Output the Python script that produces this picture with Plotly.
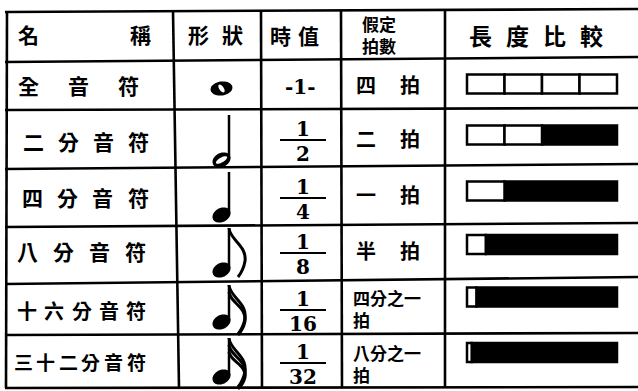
import numpy as np
import plotly.graph_objects as go

# ---------------- data ----------------
header_name = ["名", "稱"]
header_shape = ["形", "狀"]
header_value = ["時", "值"]
header_beats = ["假定", "拍數"]
header_compare = ["長", "度", "比", "較"]

note_names = ["全音符", "二分音符", "四分音符", "八分音符", "十六分音符", "三十二分音符"]
time_numerators = [1, 1, 1, 1, 1, 1]
time_denominators = [1, 2, 4, 8, 16, 32]
beat_labels = [["四", "拍"], ["二", "拍"], ["一", "拍"], ["半", "拍"],
               ["四分之一", "拍"], ["八分之一", "拍"]]
beats = [4, 2, 1, 0.5, 0.25, 0.125]
whole_beats = 4
flag_counts = [0, 0, 0, 1, 2, 3]
hollow_heads = [True, True, False, False, False, False]

# ---------------- layout (positions / styles) ----------------
W, H = 638, 391
CJK = "Noto Sans CJK TC, Noto Sans CJK SC, sans-serif"
SERIF = "DejaVu Serif, Liberation Serif, serif"
INK = "#000000"

H_LINES = [(12, 9), (62, 57), (110, 108), (169, 164), (227, 223), (284, 277), (335, 333), (388, 387)]
V_LINES = [(7, 6), (173, 179), (261, 262), (341, 342), (445, 445)]
ROW_Y = [85, 141, 197, 251, 310, 361]
HEADER_Y = 34
NAME_SPAN = [(28, 128), (33, 138), (32, 138), (27, 135), (27, 136), (23, 136)]
NAME_SIZE = [21, 21, 21, 21, 20, 19]
FRAC_X = 303
FRAC_LINE_Y = [None, 140, 198, 253, 310, 363]
WHOLE_VALUE_Y = 87
BEAT_X = (366, 410)
BEAT_Y = [84, 138, 194, 250, 308, 363]
BEAT_LEFT = 351
NOTE_X = 221.5
HEAD_Y = [88.5, 160, 215, 270, 322, 377]
STEM_TOP = [None, 115, 172, 228, 285, 338]
BAR_X0, BAR_X1 = 467, 617
BAR_Y = [84, 135, 191, 244.5, 297, 352.5]
BAR_H = 19

annotations = []
shapes = []


def txt(s, x, y, size, family=CJK, weight=700, xanchor="center", align="left"):
    annotations.append(dict(text=s, x=x, y=y, xref="x", yref="y", showarrow=False,
                            xanchor=xanchor, yanchor="middle", align=align,
                            font=dict(family=family, size=size, color=INK, weight=weight)))


def spread(chars, x0, x1, y, size):
    n = len(chars)
    xs = [x0] if n == 1 else list(np.linspace(x0, x1, n))
    for c, x in zip(chars, xs):
        txt(c, x, y, size)


def ellipse_path(cx, cy, a, b, theta_deg, n=48):
    t = np.linspace(0, 2 * np.pi, n, endpoint=False)
    th = np.radians(theta_deg)
    x = cx + a * np.cos(th) * np.cos(t) - b * np.sin(th) * np.sin(t)
    y = cy - (a * np.sin(th) * np.cos(t) + b * np.cos(th) * np.sin(t))
    return "M " + " L ".join(f"{xi:.2f},{yi:.2f}" for xi, yi in zip(x, y)) + " Z"


def flag_path(xs, y0, L):
    return (f"M {xs},{y0} C {xs+1},{y0+0.25*L} {xs+18},{y0+0.35*L} {xs+16},{y0+0.68*L} "
            f"C {xs+15},{y0+0.8*L} {xs+13},{y0+0.9*L} {xs+9},{y0+L}")


# grid lines
for yl, yr in H_LINES:
    shapes.append(dict(type="line", xref="x", yref="y", x0=5, x1=W, y0=yl, y1=yr,
                       line=dict(color=INK, width=2.6)))
for xt, xb in V_LINES:
    shapes.append(dict(type="line", xref="x", yref="y", x0=xt, x1=xb, y0=11, y1=388,
                       line=dict(color=INK, width=2.6)))

# header
spread(header_name, 28, 140, HEADER_Y, 21)
spread(header_shape, 198, 232, HEADER_Y, 21)
spread(header_value, 280, 308, HEADER_Y + 1, 21)
txt("<br>".join(header_beats), 379, 34, 17, align="center")
spread(header_compare, 480, 591, HEADER_Y + 1, 23)

# rows
for i, name in enumerate(note_names):
    x0, x1 = NAME_SPAN[i]
    spread(list(name), x0, x1, ROW_Y[i], NAME_SIZE[i])

    # time value
    if time_denominators[i] == 1:
        txt(f"-{time_numerators[i]}-", FRAC_X - 3, WHOLE_VALUE_Y, 20, family=SERIF, weight=700)
    else:
        ly = FRAC_LINE_Y[i]
        shapes.append(dict(type="line", xref="x", yref="y", x0=FRAC_X - 23, x1=FRAC_X + 23,
                           y0=ly, y1=ly, line=dict(color=INK, width=2)))
        txt(str(time_numerators[i]), FRAC_X, ly - 11, 20, family=SERIF, weight=700)
        txt(str(time_denominators[i]), FRAC_X, ly + 14, 20, family=SERIF, weight=700)

    # beat labels
    a, b = beat_labels[i]
    if len(a) == 1:
        txt(a, BEAT_X[0], BEAT_Y[i], 20)
        txt(b, BEAT_X[1], BEAT_Y[i], 20)
    else:
        txt(f"{a}<br>{b}", BEAT_LEFT, BEAT_Y[i], 17, xanchor="left")

    # note glyph
    hy = HEAD_Y[i]
    if i == 0:
        shapes.append(dict(type="path", xref="x", yref="y", path=ellipse_path(NOTE_X, hy, 11, 7, 8),
                           fillcolor=INK, line=dict(width=0)))
        shapes.append(dict(type="path", xref="x", yref="y", path=ellipse_path(NOTE_X, hy, 4.5, 2.2, -55),
                           fillcolor="white", line=dict(width=0)))
        continue
    stem_x = NOTE_X + 7.5
    shapes.append(dict(type="line", xref="x", yref="y", x0=stem_x, x1=stem_x, y0=hy - 2, y1=STEM_TOP[i],
                       line=dict(color=INK, width=2.5)))
    shapes.append(dict(type="path", xref="x", yref="y", path=ellipse_path(NOTE_X, hy, 9.5, 7, 28),
                       fillcolor=INK, line=dict(width=0)))
    if hollow_heads[i]:
        shapes.append(dict(type="path", xref="x", yref="y", path=ellipse_path(NOTE_X, hy, 6.3, 2.4, 30),
                           fillcolor="white", line=dict(width=0)))
    for k in range(flag_counts[i]):
        L = 49 - 6 * k
        shapes.append(dict(type="path", xref="x", yref="y",
                           path=flag_path(stem_x, STEM_TOP[i] + 7 * k, L),
                           line=dict(color=INK, width=3)))

# ---------------- comparison bars (beats axis) ----------------
white_x, white_base, white_y = [], [], []
black_x, black_base, black_y = [], [], []
for i, b in enumerate(beats):
    start = 0.0
    remaining = b
    while remaining > 1e-9:
        seg = min(1.0, remaining)
        white_x.append(seg); white_base.append(start); white_y.append(BAR_Y[i])
        start += seg
        remaining -= seg
    if whole_beats - b > 1e-9:
        black_x.append(whole_beats - b); black_base.append(b); black_y.append(BAR_Y[i])

fig = go.Figure()
fig.add_trace(go.Bar(x=black_x, base=black_base, y=black_y, orientation="h", width=BAR_H,
                     xaxis="x2", yaxis="y", marker=dict(color=INK, line=dict(color=INK, width=2.5)),
                     hoverinfo="skip", showlegend=False))
fig.add_trace(go.Bar(x=white_x, base=white_base, y=white_y, orientation="h", width=BAR_H,
                     xaxis="x2", yaxis="y", marker=dict(color="white", line=dict(color=INK, width=2.5)),
                     hoverinfo="skip", showlegend=False))

scale = (BAR_X1 - BAR_X0) / whole_beats
fig.update_layout(
    width=W, height=H, margin=dict(l=0, r=0, t=0, b=0),
    paper_bgcolor="white", plot_bgcolor="white",
    barmode="overlay", showlegend=False,
    xaxis=dict(range=[0, W], visible=False, fixedrange=True),
    xaxis2=dict(range=[-BAR_X0 / scale, (W - BAR_X0) / scale], overlaying="x", visible=False,
                fixedrange=True),
    yaxis=dict(range=[H, 0], visible=False, fixedrange=True),
    annotations=annotations, shapes=shapes,
)
fig.write_html("out.html", config={"displayModeBar": False},
               post_script="document.body.style.margin='0';document.body.style.overflow='hidden';")
